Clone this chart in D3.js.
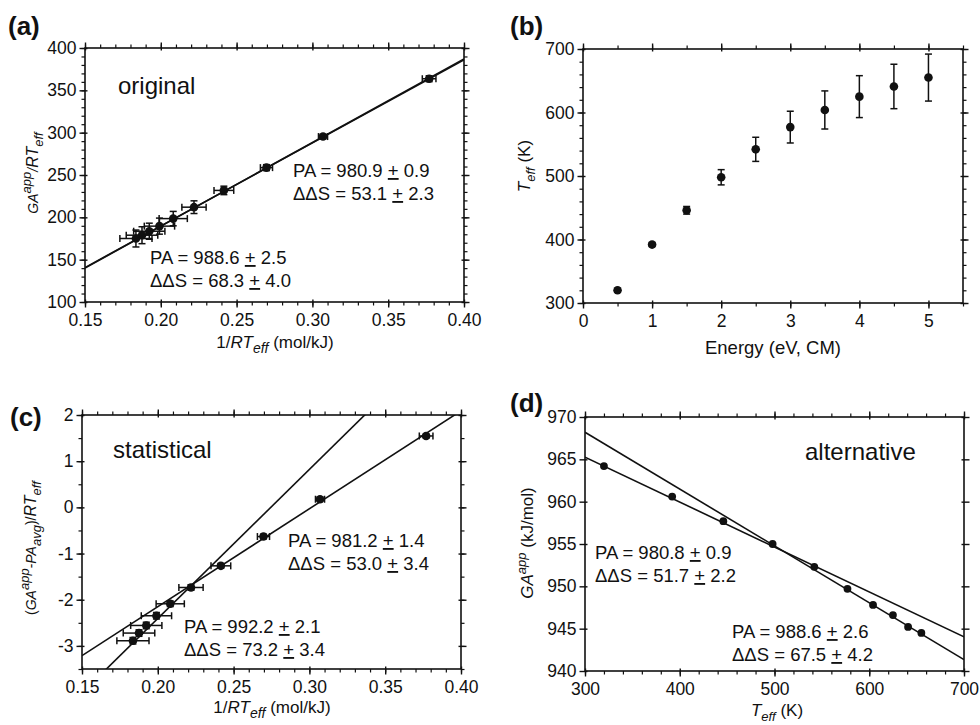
<!DOCTYPE html>
<html>
<head>
<meta charset="utf-8">
<script src="https://cdn.jsdelivr.net/npm/d3@7"></script>
<style>
  html, body { margin: 0; padding: 0; background: #fff; }
  svg { display: block; }
</style>
</head>
<body>
<div id="chart"></div>
<script>
// Panel (b): effective temperature vs collision energy
const energy = [0.5, 1, 1.5, 2, 2.5, 3, 3.5, 4, 4.5, 5];
const tEff = [320, 392, 446, 498, 542, 577, 604, 625, 641, 655];
const tEffErr = [3, 3, 6, 12, 19, 25, 30, 33, 35, 37];

// Panels (a) and (c): x = 1/RT_eff
const invRT = [0.377, 0.307, 0.2697, 0.2416, 0.2219, 0.2082, 0.1991, 0.1924, 0.1876, 0.1836];
const invRTErr = [0.0045, 0.003, 0.004, 0.0065, 0.008, 0.0093, 0.0100, 0.0103, 0.0104, 0.0106];

// Panel (a): GA^app / RT_eff
const gaOverRT = [363.7, 295.4, 258.7, 231.8, 212.0, 198.5, 189.6, 183.6, 178.9, 175.0];
const gaOverRTErr = [3.5, 2.5, 3.5, 5, 7.5, 8.5, 9.5, 9.5, 10, 10];

// Panel (c): (GA^app - PA_avg) / RT_eff
const statY = [1.546, 0.176, -0.632, -1.266, -1.735, -2.088, -2.347, -2.557, -2.722, -2.888];
const statYErr = [0.04, 0.04, 0.05, 0.05, 0.06, 0.06, 0.07, 0.07, 0.07, 0.07];

// Panel (d): GA^app vs T_eff
const gaApp = [964.2, 960.6, 957.7, 955.0, 952.3, 949.7, 947.8, 946.6, 945.2, 944.5];

// Fit lines (end points)
const fitA = [[[0.15, 140.7], [0.40, 386.0]], [[0.15, 140.1], [0.40, 387.2]]];
const fitC = [[[0.15, -3.21], [0.40, 2.09]], [[0.15, -4.02], [0.40, 4.05]]];
const fitD = [[[300, 965.26], [700, 944.03]], [[300, 968.2], [700, 941.35]]];

const FONT = "'Liberation Sans', Arial, Helvetica, sans-serif";
const INK = "#111";

const svg = d3.select("#chart").append("svg")
  .attr("width", 980)
  .attr("height", 725)
  .style("font-family", FONT);

svg.append("rect").attr("width", 980).attr("height", 725).attr("fill", "#fff");

// Generic panel with box frame, major+minor ticks on four sides
function makePanel(o) {
  const x = d3.scaleLinear().domain(o.xDomain).range([o.x0, o.x1]);
  const y = d3.scaleLinear().domain(o.yDomain).range([o.y1, o.y0]);
  const g = svg.append("g");

  const axes = [
    { ax: d3.axisBottom(x), t: `translate(0,${o.y1})`, maj: o.xMajor, min: o.xMinor, fmt: o.xFmt, dir: "y", sign: 1 },
    { ax: d3.axisTop(x), t: `translate(0,${o.y0})`, maj: o.xMajor, min: o.xMinor, fmt: null, dir: "y", sign: -1 },
    { ax: d3.axisLeft(y), t: `translate(${o.x0},0)`, maj: o.yMajor, min: o.yMinor, fmt: o.yFmt, dir: "x", sign: -1 },
    { ax: d3.axisRight(y), t: `translate(${o.x1},0)`, maj: o.yMajor, min: o.yMinor, fmt: null, dir: "x", sign: 1 }
  ];

  axes.forEach(a => {
    if (a.min && a.min.length) {
      const gm = g.append("g").attr("transform", a.t)
        .call(a.ax.tickValues(a.min).tickFormat("").tickSize(3.5));
      gm.select(".domain").remove();
      gm.selectAll(".tick line").attr("stroke", INK).attr("stroke-width", 1.2);
    }
    const gM = g.append("g").attr("transform", a.t)
      .call(a.ax.tickValues(a.maj).tickFormat(a.fmt ? a.fmt : "").tickSize(5.5).tickPadding(a.dir === "y" ? 6 : 3));
    gM.select(".domain").remove();
    gM.selectAll(".tick line")
      .attr("stroke", INK).attr("stroke-width", 1.4)
      .attr(a.dir + "1", -2.5 * a.sign);
    gM.selectAll(".tick text")
      .attr("fill", INK)
      .style("font-family", FONT)
      .style("font-size", "17.5px");
  });

  g.append("rect")
    .attr("x", o.x0).attr("y", o.y0)
    .attr("width", o.x1 - o.x0).attr("height", o.y1 - o.y0)
    .attr("fill", "none").attr("stroke", INK).attr("stroke-width", 1.6);

  const clipId = "clip-" + o.id;
  svg.append("clipPath").attr("id", clipId)
    .append("rect")
    .attr("x", o.x0).attr("y", o.y0)
    .attr("width", o.x1 - o.x0).attr("height", o.y1 - o.y0);
  const plot = svg.append("g").attr("clip-path", `url(#${clipId})`);

  return { x, y, g, plot };
}

// Rich text with italic / sub / superscript pieces
function richText(parent, x, y, parts, opts) {
  opts = opts || {};
  const t = parent.append("text")
    .attr("x", x).attr("y", y)
    .attr("fill", INK)
    .attr("text-anchor", opts.anchor || "start")
    .style("font-family", FONT);
  if (opts.rotate) t.attr("transform", `rotate(-90,${x},${y})`);
  let shift = 0;
  parts.forEach(p => {
    const s = t.append("tspan").text(p.t).style("font-size", p.size + "px");
    if (p.italic) s.style("font-style", "italic");
    const target = p.sub ? p.size * 0.35 : p.sup ? -p.size * 0.55 : 0;
    if (target !== shift) { s.attr("dy", target - shift); shift = target; }
    if (p.underline) s.style("text-decoration", "underline");
  });
  return t;
}

function fitBlock(parent, x, y, pa, paErr, ds, dsErr) {
  richText(parent, x, y, [
    { t: `PA = ${pa} `, size: 18.5 },
    { t: "+", size: 18.5, underline: true },
    { t: ` ${paErr}`, size: 18.5 }
  ]);
  richText(parent, x, y + 23, [
    { t: `\u0394\u0394S = ${ds} `, size: 18.5 },
    { t: "+", size: 18.5, underline: true },
    { t: ` ${dsErr}`, size: 18.5 }
  ]);
}

function panelLabel(x, y, s) {
  svg.append("text").attr("x", x).attr("y", y)
    .attr("fill", INK)
    .style("font-size", "26px").style("font-weight", "bold")
    .text(s);
}

function drawLines(p, fits) {
  const line = d3.line().x(d => p.x(d[0])).y(d => p.y(d[1]));
  fits.forEach(f => {
    p.plot.append("path").attr("d", line(f))
      .attr("fill", "none").attr("stroke", INK).attr("stroke-width", 1.6);
  });
}

function drawPoints(p, xs, ys, xErr, yErr, r) {
  const cap = 3.5;
  const idx = d3.range(xs.length);
  const eb = p.g.append("g").attr("stroke", INK).attr("stroke-width", 1.5);
  idx.forEach(i => {
    const cx = p.x(xs[i]), cy = p.y(ys[i]);
    if (yErr) {
      const t = p.y(ys[i] + yErr[i]), b = p.y(ys[i] - yErr[i]);
      eb.append("line").attr("x1", cx).attr("x2", cx).attr("y1", t).attr("y2", b);
      eb.append("line").attr("x1", cx - cap).attr("x2", cx + cap).attr("y1", t).attr("y2", t);
      eb.append("line").attr("x1", cx - cap).attr("x2", cx + cap).attr("y1", b).attr("y2", b);
    }
    if (xErr) {
      const l = p.x(xs[i] - xErr[i]), rr = p.x(xs[i] + xErr[i]);
      eb.append("line").attr("x1", l).attr("x2", rr).attr("y1", cy).attr("y2", cy);
      eb.append("line").attr("x1", l).attr("x2", l).attr("y1", cy - cap).attr("y2", cy + cap);
      eb.append("line").attr("x1", rr).attr("x2", rr).attr("y1", cy - cap).attr("y2", cy + cap);
    }
  });
  p.g.append("g").selectAll("circle").data(idx).join("circle")
    .attr("cx", i => p.x(xs[i])).attr("cy", i => p.y(ys[i]))
    .attr("r", r).attr("fill", INK);
}

// ---------- (a) original ----------
const pA = makePanel({
  id: "a", x0: 85, x1: 464, y0: 48, y1: 302,
  xDomain: [0.15, 0.40], yDomain: [100, 400],
  xMajor: d3.range(0.15, 0.4001, 0.05), xMinor: d3.range(0.15, 0.4001, 0.01),
  yMajor: d3.range(100, 401, 50), yMinor: d3.range(100, 401, 10),
  xFmt: d3.format(".2f"), yFmt: d => d
});
drawLines(pA, fitA);
drawPoints(pA, invRT, gaOverRT, invRTErr, gaOverRTErr, 4.3);
svg.append("text").attr("x", 118).attr("y", 94).attr("fill", INK).style("font-size", "24px").text("original");
fitBlock(svg, 293, 177, "980.9", "0.9", "53.1", "2.3");
fitBlock(svg, 150, 264, "988.6", "2.5", "68.3", "4.0");
richText(svg, 275, 348, [
  { t: "1/", size: 17 }, { t: "RT", size: 17, italic: true }, { t: "eff", size: 14, italic: true, sub: true },
  { t: " (mol/kJ)", size: 17 }
], { anchor: "middle" });
richText(svg, 38, 173, [
  { t: "GA", size: 14, italic: true }, { t: "app", size: 13, italic: true, sup: true },
  { t: "/", size: 14, italic: true }, { t: "RT", size: 16, italic: true }, { t: "eff", size: 13, italic: true, sub: true }
], { anchor: "middle", rotate: true });
panelLabel(8, 35, "(a)");

// ---------- (b) T_eff vs energy ----------
const pB = makePanel({
  id: "b", x0: 583, x1: 963, y0: 49, y1: 303,
  xDomain: [0, 5.5], yDomain: [300, 700],
  xMajor: d3.range(0, 5.01, 1), xMinor: d3.range(0, 5.51, 0.5),
  yMajor: d3.range(300, 701, 100), yMinor: d3.range(300, 701, 20),
  xFmt: d => d, yFmt: d => d
});
drawPoints(pB, energy, tEff, null, tEffErr, 4.3);
richText(svg, 773, 354, [{ t: "Energy (eV, CM)", size: 18.5 }], { anchor: "middle" });
richText(svg, 530, 166, [
  { t: "T", size: 17, italic: true }, { t: "eff", size: 13, italic: true, sub: true }, { t: " (K)", size: 17 }
], { anchor: "middle", rotate: true });
panelLabel(510, 35, "(b)");

// ---------- (c) statistical ----------
const pC = makePanel({
  id: "c", x0: 82, x1: 461, y0: 415, y1: 669,
  xDomain: [0.15, 0.40], yDomain: [-3.5, 2],
  xMajor: d3.range(0.15, 0.4001, 0.05), xMinor: d3.range(0.15, 0.4001, 0.01),
  yMajor: d3.range(-3, 2.01, 1), yMinor: d3.range(-3.5, 2.01, 0.5),
  xFmt: d3.format(".2f"), yFmt: d => String(d)
});
drawLines(pC, fitC);
drawPoints(pC, invRT, statY, invRTErr, statYErr, 4.3);
svg.append("text").attr("x", 113).attr("y", 458).attr("fill", INK).style("font-size", "24px").text("statistical");
fitBlock(svg, 288, 547, "981.2", "1.4", "53.0", "3.4");
fitBlock(svg, 184, 633, "992.2", "2.1", "73.2", "3.4");
richText(svg, 272, 713, [
  { t: "1/", size: 17 }, { t: "RT", size: 17, italic: true }, { t: "eff", size: 14, italic: true, sub: true },
  { t: " (mol/kJ)", size: 17 }
], { anchor: "middle" });
richText(svg, 36, 548, [
  { t: "(", size: 14 }, { t: "GA", size: 14, italic: true }, { t: "app", size: 13, italic: true, sup: true },
  { t: "-PA", size: 14, italic: true }, { t: "avg", size: 13, italic: true, sub: true },
  { t: ")/", size: 14 }, { t: "RT", size: 16, italic: true }, { t: "eff", size: 13, italic: true, sub: true }
], { anchor: "middle", rotate: true });
panelLabel(10, 426, "(c)");

// ---------- (d) alternative ----------
const pD = makePanel({
  id: "d", x0: 585, x1: 964, y0: 417, y1: 671,
  xDomain: [300, 700], yDomain: [940, 970],
  xMajor: d3.range(300, 701, 100), xMinor: d3.range(300, 701, 20),
  yMajor: d3.range(940, 971, 5), yMinor: [],
  xFmt: d => d, yFmt: d => d
});
drawLines(pD, fitD);
drawPoints(pD, tEff, gaApp, null, null, 3.9);
svg.append("text").attr("x", 805).attr("y", 460).attr("fill", INK).style("font-size", "24px").text("alternative");
fitBlock(svg, 595, 559, "980.8", "0.9", "51.7", "2.2");
fitBlock(svg, 732, 638, "988.6", "2.6", "67.5", "4.2");
richText(svg, 777, 716, [
  { t: "T", size: 17, italic: true }, { t: "eff", size: 13, italic: true, sub: true }, { t: " (K)", size: 17 }
], { anchor: "middle" });
richText(svg, 533, 543, [
  { t: "GA", size: 17, italic: true }, { t: "app", size: 13, italic: true, sup: true }, { t: " (kJ/mol)", size: 17 }
], { anchor: "middle", rotate: true });
panelLabel(510, 412, "(d)");
</script>
</body>
</html>
